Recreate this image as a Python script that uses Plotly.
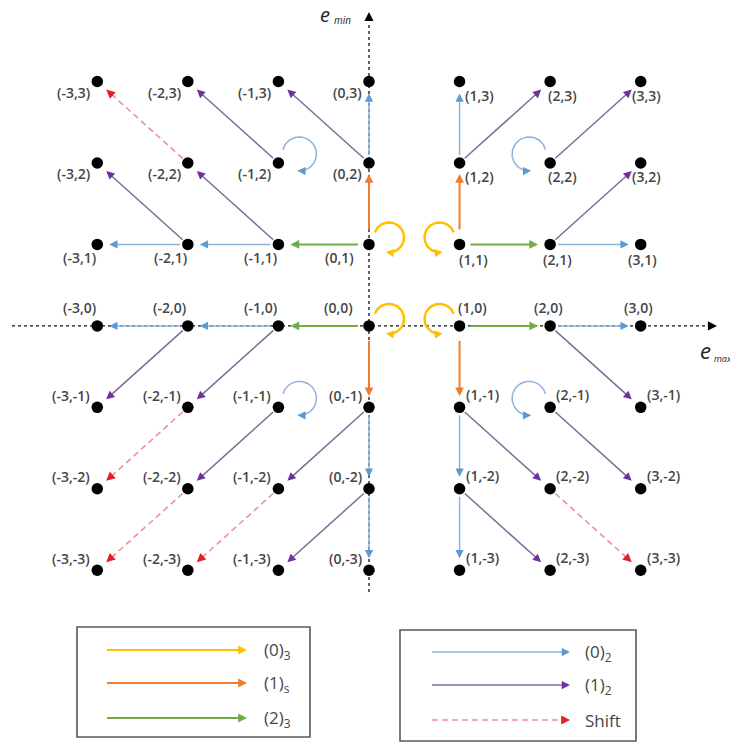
import math
import plotly.graph_objects as go

# ---- lattice of (e_max, e_min) states ----
GRID_X = [-3, -2, -1, 0, 1, 2, 3]
GRID_Y = [3, 2, 1, 0, -1, -2, -3]

# self-loop states
LOOPS_0_3 = [(0, 1), (1, 1), (0, 0), (1, 0)]
LOOPS_0_2 = [(-1, 2), (2, 2), (-1, -1), (2, -1)]

# transitions (source -> target)
EDGES_1_S = [((0, 1), (0, 2)), ((1, 1), (1, 2)), ((0, 0), (0, -1)), ((1, 0), (1, -1))]
EDGES_2_3 = [((0, 1), (-1, 1)), ((1, 1), (2, 1)), ((0, 0), (-1, 0)), ((1, 0), (2, 0))]
EDGES_0_2 = [((0, 2), (0, 3)), ((1, 2), (1, 3)), ((-1, 1), (-2, 1)), ((-2, 1), (-3, 1)),
             ((2, 1), (3, 1)), ((-1, 0), (-2, 0)), ((-2, 0), (-3, 0)), ((2, 0), (3, 0)),
             ((0, -1), (0, -2)), ((0, -2), (0, -3)), ((1, -1), (1, -2)), ((1, -2), (1, -3))]
EDGES_1_2 = [((-1, 2), (-2, 3)), ((0, 2), (-1, 3)), ((1, 2), (2, 3)), ((2, 2), (3, 3)),
             ((-2, 1), (-3, 2)), ((-1, 1), (-2, 2)), ((2, 1), (3, 2)),
             ((-1, 0), (-2, -1)), ((-2, 0), (-3, -1)), ((2, 0), (3, -1)),
             ((-1, -1), (-2, -2)), ((0, -1), (-1, -2)), ((0, -2), (-1, -3)),
             ((1, -1), (2, -2)), ((1, -2), (2, -3)), ((2, -1), (3, -2))]
EDGES_SHIFT = [((-2, 2), (-3, 3)), ((-2, -1), (-3, -2)), ((-2, -2), (-3, -3)),
               ((-1, -2), (-2, -3)), ((2, -2), (3, -3))]

LEGEND_LEFT = ["(0)<sub>3</sub>", "(1)<sub>s</sub>", "(2)<sub>3</sub>"]
LEGEND_RIGHT = ["(0)<sub>2</sub>", "(1)<sub>2</sub>", "Shift"]

# ---- canvas / coordinate frame ----
W, H = 730, 744
X_RANGE = [-4.074, 3.986]
Y_RANGE = [-5.133, 4.001]
SX = W / (X_RANGE[1] - X_RANGE[0])
SY = H / (Y_RANGE[1] - Y_RANGE[0])


def to_px(x, y):
    return (x - X_RANGE[0]) * SX, (Y_RANGE[1] - y) * SY


def to_data(px, py):
    return px / SX + X_RANGE[0], Y_RANGE[1] - py / SY


YELLOW = "#FFC000"
ORANGE = "#ED7D31"
GREEN = "#70AD47"
BLUE_LINE, BLUE_HEAD = "#8FB2DC", "#5B9BD5"
PURPLE_LINE, PURPLE_HEAD = "#7D6C9C", "#7030A0"
SHIFT_LINE, SHIFT_HEAD = "#EE909A", "#E3202A"
TEXT = "#464646"
FONT = "Open Sans"

fig = go.Figure()
annotations = []
shapes = []


def head(px, py, ux, uy, color, size=1.1, width=1.5, ref="data"):
    """Arrowhead whose tip is at screen point (px, py) pointing along (ux, uy)."""
    if ref == "data":
        x, y = to_data(px, py)
        xref, yref = "x", "y"
    else:
        x, y = px / W, 1 - py / H
        xref, yref = "paper", "paper"
    annotations.append(dict(
        x=x, y=y, xref=xref, yref=yref, ax=-ux * 5, ay=-uy * 5,
        text="", showarrow=True, arrowhead=2, arrowsize=size,
        arrowwidth=width, arrowcolor=color, standoff=0))


def edge_group(edges, line_color, head_color, width, start_off, end_off,
               dash=None, hsize=1.1):
    xs, ys = [], []
    for (s, t) in edges:
        sx, sy = to_px(*s)
        tx, ty = to_px(*t)
        d = math.hypot(tx - sx, ty - sy)
        ux, uy = (tx - sx) / d, (ty - sy) / d
        a = to_data(sx + ux * start_off, sy + uy * start_off)
        bpx, bpy = tx - ux * end_off, ty - uy * end_off
        b = to_data(bpx - ux * 4, bpy - uy * 4)
        xs += [a[0], b[0], None]
        ys += [a[1], b[1], None]
        head(bpx, bpy, ux, uy, head_color, size=hsize, width=min(width, 1.6))
    fig.add_trace(go.Scatter(
        x=xs, y=ys, mode="lines", hoverinfo="skip", showlegend=False,
        line=dict(color=line_color, width=width, dash=dash)))


def loop_group(nodes, color, head_color, width, off, r, a0, a1, hsize):
    xs, ys = [], []
    for (nx, ny) in nodes:
        side = 1 if nx <= 0 else -1
        npx, npy = to_px(nx, ny)
        cx, cy = npx + side * off[0], npy + off[1]
        pts = []
        n = 48
        for i in range(n + 1):
            th = math.radians(a0 + (a1 - a0) * i / n)
            if side < 0:
                th = math.pi - th
            pts.append((cx + r * math.cos(th), cy + r * math.sin(th)))
        for (px, py) in pts[:-2]:
            dx, dy = to_data(px, py)
            xs.append(dx)
            ys.append(dy)
        xs.append(None)
        ys.append(None)
        ex, ey = pts[-1]
        px2, py2 = pts[-3]
        d = math.hypot(ex - px2, ey - py2)
        head(ex, ey, (ex - px2) / d, (ey - py2) / d, head_color, size=hsize,
             width=min(width, 1.6))
    fig.add_trace(go.Scatter(
        x=xs, y=ys, mode="lines", hoverinfo="skip", showlegend=False,
        line=dict(color=color, width=width)))


# ---- axes (dashed, with arrowheads) ----
ax0_l = to_data(12, 0)[0]
ax0_r = to_data(708, 0)[0]
ay0_b = to_data(0, 592)[1]
ay0_t = to_data(0, 22)[1]
shapes.append(dict(type="line", xref="x", yref="y", x0=ax0_l, x1=ax0_r, y0=0, y1=0,
                   line=dict(color="#111111", width=1.3, dash="3px,3px"), layer="below"))
shapes.append(dict(type="line", xref="x", yref="y", x0=0, x1=0, y0=ay0_b, y1=ay0_t,
                   line=dict(color="#111111", width=1.3, dash="3px,3px"), layer="below"))
zx, zy = to_px(0, 0)
head(717, zy, 1, 0, "#000000", size=1.3, width=1.4)
head(zx, 12, 0, -1, "#000000", size=1.3, width=1.4)

# ---- transitions ----
edge_group(EDGES_0_2, BLUE_LINE, BLUE_HEAD, 1.5, 8, 12)
edge_group(EDGES_1_2, PURPLE_LINE, PURPLE_HEAD, 1.5, 7, 12)
edge_group(EDGES_SHIFT, SHIFT_LINE, SHIFT_HEAD, 1.6, 7, 12, dash="6px,4px")
edge_group(EDGES_2_3, GREEN, GREEN, 2.0, 11, 12)
edge_group(EDGES_1_S, ORANGE, ORANGE, 2.0, 15, 11)

loop_group(LOOPS_0_2, BLUE_LINE, BLUE_HEAD, 1.5, (21, -9), 17, -165, 97, 1.1)
loop_group(LOOPS_0_3, YELLOW, YELLOW, 2.5, (20, -7), 15, -160, 102, 1.0)

# ---- lattice nodes ----
nodes_x = [x for y in GRID_Y for x in GRID_X]
nodes_y = [y for y in GRID_Y for x in GRID_X]
fig.add_trace(go.Scatter(
    x=nodes_x, y=nodes_y, mode="markers", hoverinfo="skip", showlegend=False,
    marker=dict(color="#000000", size=11.5, line=dict(width=0))))


def label_place(x, y):
    """(xanchor, dx, dy) in screen pixels for the state label."""
    if y == 0:
        if x < 0:
            return "center", -18, -18
        if x == 0:
            return "center", -30, -18
        return "center", (13 if x == 1 else -2), -18
    if y > 0:
        if x <= 0:
            if y == 1:
                return "right", (1 if x < 0 else -13), 13
            return "right", -5, 11
        if y == 1:
            return "left", -3 - 6 * (x - 1), 15
        return "left", 3 - 7 * (x - 1), 14
    if x <= 0:
        return "right", -5, -12
    return "left", 4, -13


for yv in GRID_Y:
    for xv in GRID_X:
        anc, dx, dy = label_place(xv, yv)
        annotations.append(dict(
            x=xv, y=yv, xref="x", yref="y", text=f"({xv},{yv})", showarrow=False,
            xanchor=anc, yanchor="middle", xshift=dx, yshift=-dy,
            font=dict(family=FONT, size=14, color=TEXT, weight=600)))

# ---- axis titles ----
annotations += [
    dict(x=325 / W, y=1 - 15 / H, xref="paper", yref="paper", text="<i>e</i>",
         showarrow=False, xanchor="center", yanchor="middle",
         font=dict(family=FONT, size=20, color="#222222")),
    dict(x=332 / W, y=1 - 20 / H, xref="paper", yref="paper", text="<i>min</i>",
         showarrow=False, xanchor="left", yanchor="middle",
         font=dict(family=FONT, size=10, color="#222222")),
    dict(x=705 / W, y=1 - 350 / H, xref="paper", yref="paper", text="<i>e</i>",
         showarrow=False, xanchor="center", yanchor="middle",
         font=dict(family=FONT, size=22, color="#222222")),
    dict(x=712 / W, y=1 - 358 / H, xref="paper", yref="paper", text="<i>max</i>",
         showarrow=False, xanchor="left", yanchor="middle",
         font=dict(family=FONT, size=9, color="#222222")),
]

# ---- legend boxes ----
for (x0, y0, x1, y1) in [(77, 627, 310, 737), (400, 630, 636, 741)]:
    shapes.append(dict(type="rect", xref="paper", yref="paper",
                       x0=x0 / W, x1=x1 / W, y0=1 - y1 / H, y1=1 - y0 / H,
                       line=dict(color="#595959", width=1.6), fillcolor="white",
                       layer="below"))

left_styles = [(YELLOW, YELLOW, None, 2.2), (ORANGE, ORANGE, None, 2.0), (GREEN, GREEN, None, 2.0)]
right_styles = [(BLUE_LINE, BLUE_HEAD, None, 1.5), (PURPLE_LINE, PURPLE_HEAD, None, 1.5),
                (SHIFT_LINE, SHIFT_HEAD, "6px,4px", 1.6)]
for (labels, styles, xa, xb, xt, ys) in [
        (LEGEND_LEFT, left_styles, 107, 247, 262, [650, 683, 718]),
        (LEGEND_RIGHT, right_styles, 432, 570, 583, [652, 685, 720])]:
    for lab, (lc, hc, dash, wd), yy in zip(labels, styles, ys):
        shapes.append(dict(type="line", xref="paper", yref="paper",
                           x0=xa / W, x1=(xb - 4) / W, y0=1 - yy / H, y1=1 - yy / H,
                           line=dict(color=lc, width=wd, dash=dash)))
        head(xb, yy, 1, 0, hc, size=1.1, width=min(wd, 1.6), ref="paper")
        annotations.append(dict(
            x=xt / W, y=1 - yy / H, xref="paper", yref="paper", text=lab,
            showarrow=False, xanchor="left", yanchor="middle",
            font=dict(family=FONT, size=17, color=TEXT)))

fig.update_layout(
    width=W, height=H, margin=dict(l=0, r=0, t=0, b=0),
    paper_bgcolor="white", plot_bgcolor="white",
    xaxis=dict(range=X_RANGE, visible=False, fixedrange=True),
    yaxis=dict(range=Y_RANGE, visible=False, fixedrange=True),
    shapes=shapes, annotations=annotations, showlegend=False,
)

fig.write_html("out.html")
